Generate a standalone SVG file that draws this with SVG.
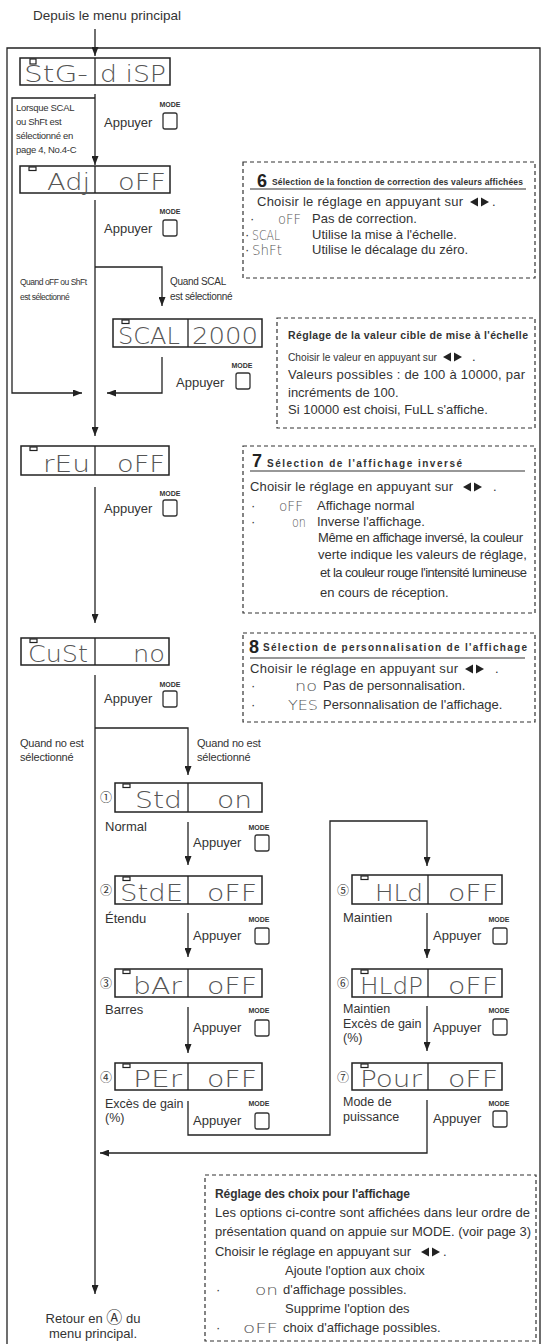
<svg xmlns="http://www.w3.org/2000/svg" width="544" height="1344" viewBox="0 0 544 1344">
<defs>
<marker id="ah" markerWidth="9" markerHeight="7" refX="9" refY="3.5" orient="auto" markerUnits="userSpaceOnUse"><path d="M0,0 L9,3.5 L0,7 z" fill="#222"/></marker>
<g id="lr" fill="#222"><path d="M0,0 L8,-4.5 L8,4.5 z"/><path d="M11,-4.5 L19,0 L11,4.5 z"/></g>
<style>
.ln{fill:none;stroke:#222;stroke-width:1.3}
.ar{fill:none;stroke:#222;stroke-width:1.3;marker-end:url(#ah)}
.disp{fill:#fff;stroke:#222;stroke-width:1.5}
.div{stroke:#222;stroke-width:1.3}
.ind{fill:#fff;stroke:#222;stroke-width:1.2}
.seg{font-family:"DejaVu Sans ExtraLight","DejaVu Sans",sans-serif;font-weight:200;font-size:23px;fill:#555}
.seg2{font-family:"DejaVu Sans ExtraLight","DejaVu Sans",sans-serif;font-weight:200;font-size:13.5px;fill:#555}
.t{font-family:"Liberation Sans",Arial,sans-serif;font-size:13px;fill:#333}
.b{font-family:"Liberation Sans",Arial,sans-serif;font-weight:bold;fill:#333}
.big{font-family:"Liberation Sans",Arial,sans-serif;font-weight:bold;font-size:18px;fill:#222}
.mode{font-family:"Liberation Sans",Arial,sans-serif;font-size:7px;font-weight:bold;fill:#333;text-anchor:middle}
.btn{fill:#fff;stroke:#333;stroke-width:1.3}
.dash{fill:#fff;stroke:#333;stroke-width:1.2;stroke-dasharray:4 3}
.num{font-family:"Noto Sans CJK JP","DejaVu Sans",sans-serif;font-size:12px;fill:#333;text-anchor:middle}
.uln{stroke:#333;stroke-width:1.2}
</style>
</defs>
<rect width="544" height="1344" fill="#fff"/>

<!-- frame -->
<path class="ln" d="M7,1344 V48 H540 V1344"/>

<text class="t" x="107" y="20" text-anchor="middle" style="font-size:13.5px">Depuis le menu principal</text>

<!-- connectors -->
<g id="connectors">
<path class="ar" d="M95,29 V56"/>
<path class="ar" d="M95,94 V165"/>
<path class="ar" d="M95,98 H12 V393 H82"/>
<path class="ar" d="M95,200 V436"/>
<path class="ar" d="M95,267 H162 V306"/>
<path class="ar" d="M162,357 V393 H107"/>
<path class="ar" d="M95,487 V623"/>
<path class="ar" d="M95,675 V1294"/>
<path class="ar" d="M95,728 H188 V775"/>
<path class="ar" d="M188,822 V865"/>
<path class="ar" d="M188,913 V957"/>
<path class="ar" d="M188,1007 V1053"/>
<path class="ar" d="M188,1101 V1135 H330 V821 H427 V866"/>
<path class="ar" d="M427,913 V958"/>
<path class="ar" d="M427,1006 V1051"/>
<path class="ar" d="M427,1100 V1153 H100"/>
</g>

<!-- side labels -->
<g id="labels">
<text class="t" style="font-size:9.5px;letter-spacing:-0.3px" x="16" y="111">Lorsque SCAL</text>
<text class="t" style="font-size:9.5px;letter-spacing:-0.3px" x="16" y="125">ou ShFt est</text>
<text class="t" style="font-size:9.5px;letter-spacing:-0.3px" x="16" y="139">sélectionné en</text>
<text class="t" style="font-size:9.5px;letter-spacing:-0.3px" x="16" y="153">page 4, No.4-C</text>
<text class="t" style="font-size:8.5px;letter-spacing:-0.5px" x="20" y="285">Quand oFF ou ShFt</text>
<text class="t" style="font-size:8.5px;letter-spacing:-0.5px" x="20" y="300">est sélectionné</text>
<text class="t" style="font-size:10px;letter-spacing:-0.3px" x="170" y="285">Quand SCAL</text>
<text class="t" style="font-size:10px;letter-spacing:-0.3px" x="170" y="300">est sélectionné</text>
<text class="t" style="font-size:11px;letter-spacing:-0.2px" x="20" y="747">Quand no est</text>
<text class="t" style="font-size:11px;letter-spacing:-0.2px" x="20" y="761">sélectionné</text>
<text class="t" style="font-size:11px;letter-spacing:-0.2px" x="197" y="747">Quand no est</text>
<text class="t" style="font-size:11px;letter-spacing:-0.2px" x="197" y="761">sélectionné</text>
</g>

<!-- Appuyer groups -->
<g id="press">
<text class="mode" x="170" y="107">MODE</text><text class="t" x="104" y="127">Appuyer</text><rect class="btn" x="163" y="113" width="14" height="16" rx="2"/>
<text class="mode" x="170" y="214">MODE</text><text class="t" x="104" y="233">Appuyer</text><rect class="btn" x="163" y="220" width="14" height="16" rx="2"/>
<text class="mode" x="242" y="368">MODE</text><text class="t" x="176" y="387">Appuyer</text><rect class="btn" x="236" y="373" width="14" height="16" rx="2"/>
<text class="mode" x="170" y="496">MODE</text><text class="t" x="104" y="513">Appuyer</text><rect class="btn" x="163" y="500" width="14" height="16" rx="2"/>
<text class="mode" x="170" y="687">MODE</text><text class="t" x="104" y="703">Appuyer</text><rect class="btn" x="163" y="691" width="14" height="16" rx="2"/>
<text class="mode" x="259" y="830">MODE</text><text class="t" x="193" y="847">Appuyer</text><rect class="btn" x="255" y="835" width="14" height="16" rx="2"/>
<text class="mode" x="259" y="922">MODE</text><text class="t" x="193" y="940">Appuyer</text><rect class="btn" x="255" y="928" width="14" height="16" rx="2"/>
<text class="mode" x="259" y="1013">MODE</text><text class="t" x="193" y="1032">Appuyer</text><rect class="btn" x="255" y="1020" width="14" height="16" rx="2"/>
<text class="mode" x="259" y="1106">MODE</text><text class="t" x="193" y="1125">Appuyer</text><rect class="btn" x="255" y="1113" width="14" height="16" rx="2"/>
<text class="mode" x="499" y="922">MODE</text><text class="t" x="433" y="940">Appuyer</text><rect class="btn" x="493" y="928" width="14" height="16" rx="2"/>
<text class="mode" x="499" y="1013">MODE</text><text class="t" x="433" y="1032">Appuyer</text><rect class="btn" x="493" y="1019" width="14" height="16" rx="2"/>
<text class="mode" x="499" y="1106">MODE</text><text class="t" x="433" y="1123">Appuyer</text><rect class="btn" x="493" y="1111" width="14" height="16" rx="2"/>
</g>

<!-- displays -->
<g id="n-stg-disp"><rect class="disp" x="20" y="58" width="150" height="27"/><line class="div" x1="95" y1="58" x2="95" y2="85"/><rect class="ind" x="30" y="59" width="6" height="5"/><text class="seg" x="24" y="82" textLength="64" lengthAdjust="spacingAndGlyphs">StG-</text><text class="seg" x="100" y="82" textLength="66" lengthAdjust="spacingAndGlyphs">d iSP</text></g>
<g id="n-adj"><rect class="disp" x="20" y="166" width="150" height="27"/><line class="div" x1="95" y1="166" x2="95" y2="193"/><rect class="ind" x="29" y="167" width="7" height="3.5"/><text class="seg" x="47" y="190" textLength="43" lengthAdjust="spacingAndGlyphs">Adj</text><text class="seg" x="118" y="190" textLength="48" lengthAdjust="spacingAndGlyphs">oFF</text></g>
<g id="n-scal"><rect class="disp" x="113" y="319" width="149" height="28"/><line class="div" x1="188" y1="319" x2="188" y2="347"/><rect class="ind" x="122" y="320" width="7" height="3.5"/><text class="seg" x="118" y="344" textLength="62" lengthAdjust="spacingAndGlyphs">SCAL</text><text class="seg" x="192" y="344" textLength="66" lengthAdjust="spacingAndGlyphs">2000</text></g>
<g id="n-rev"><rect class="disp" x="21" y="446" width="148" height="29"/><line class="div" x1="95" y1="446" x2="95" y2="475"/><rect class="ind" x="30" y="447" width="7" height="3.5"/><text class="seg" x="43" y="472" textLength="47" lengthAdjust="spacingAndGlyphs">rEu</text><text class="seg" x="117" y="472" textLength="48" lengthAdjust="spacingAndGlyphs">oFF</text></g>
<g id="n-cust"><rect class="disp" x="21" y="638" width="148" height="27"/><line class="div" x1="95" y1="638" x2="95" y2="665"/><rect class="ind" x="30" y="639" width="7" height="3.5"/><text class="seg" x="28" y="662" textLength="60" lengthAdjust="spacingAndGlyphs">CuSt</text><text class="seg" x="133" y="662" textLength="32" lengthAdjust="spacingAndGlyphs">no</text></g>

<g id="n-std"><text class="num" x="106" y="802">①</text><rect class="disp" x="115" y="783" width="147" height="29"/><line class="div" x1="188" y1="783" x2="188" y2="812"/><rect class="ind" x="123" y="784" width="7" height="3.5"/><text class="seg" x="135" y="808" textLength="47" lengthAdjust="spacingAndGlyphs">Std</text><text class="seg" x="217" y="808" textLength="35" lengthAdjust="spacingAndGlyphs">on</text><text class="t" x="105" y="831">Normal</text></g>
<g id="n-stde"><text class="num" x="106" y="895">②</text><rect class="disp" x="115" y="876" width="147" height="28"/><line class="div" x1="188" y1="876" x2="188" y2="904"/><rect class="ind" x="123" y="877" width="7" height="3.5"/><text class="seg" x="120" y="901" textLength="63" lengthAdjust="spacingAndGlyphs">StdE</text><text class="seg" x="207" y="901" textLength="50" lengthAdjust="spacingAndGlyphs">oFF</text><text class="t" x="105" y="923">Étendu</text></g>
<g id="n-bar"><text class="num" x="106" y="988">③</text><rect class="disp" x="115" y="969" width="147" height="28"/><line class="div" x1="188" y1="969" x2="188" y2="997"/><rect class="ind" x="123" y="970" width="7" height="3.5"/><text class="seg" x="133" y="994" textLength="49" lengthAdjust="spacingAndGlyphs">bAr</text><text class="seg" x="207" y="994" textLength="50" lengthAdjust="spacingAndGlyphs">oFF</text><text class="t" x="105" y="1014">Barres</text></g>
<g id="n-per"><text class="num" x="106" y="1082">④</text><rect class="disp" x="115" y="1063" width="147" height="27"/><line class="div" x1="188" y1="1063" x2="188" y2="1090"/><rect class="ind" x="123" y="1064" width="7" height="3.5"/><text class="seg" x="133" y="1087" textLength="49" lengthAdjust="spacingAndGlyphs">PEr</text><text class="seg" x="207" y="1087" textLength="50" lengthAdjust="spacingAndGlyphs">oFF</text><text class="t" x="105" y="1108" style="font-size:12.5px">Excès de gain</text><text class="t" x="105" y="1122" style="font-size:12.5px">(%)</text></g>

<g id="n-hld"><text class="num" x="343" y="895">⑤</text><rect class="disp" x="352" y="875" width="150" height="29"/><line class="div" x1="428" y1="875" x2="428" y2="904"/><rect class="ind" x="361" y="876" width="7" height="3.5"/><text class="seg" x="375" y="901" textLength="48" lengthAdjust="spacingAndGlyphs">HLd</text><text class="seg" x="448" y="901" textLength="50" lengthAdjust="spacingAndGlyphs">oFF</text><text class="t" x="343" y="922">Maintien</text></g>
<g id="n-hldp"><text class="num" x="343" y="988">⑥</text><rect class="disp" x="352" y="969" width="150" height="28"/><line class="div" x1="428" y1="969" x2="428" y2="997"/><rect class="ind" x="361" y="970" width="7" height="3.5"/><text class="seg" x="360" y="994" textLength="63" lengthAdjust="spacingAndGlyphs">HLdP</text><text class="seg" x="448" y="994" textLength="50" lengthAdjust="spacingAndGlyphs">oFF</text><text class="t" x="343" y="1013" style="font-size:12.5px">Maintien</text><text class="t" x="343" y="1028" style="font-size:12.5px">Excès de gain</text><text class="t" x="343" y="1042" style="font-size:12.5px">(%)</text></g>
<g id="n-pour"><text class="num" x="343" y="1082">⑦</text><rect class="disp" x="352" y="1063" width="150" height="27"/><line class="div" x1="428" y1="1063" x2="428" y2="1090"/><rect class="ind" x="361" y="1064" width="7" height="3.5"/><text class="seg" x="360" y="1087" textLength="62" lengthAdjust="spacingAndGlyphs">Pour</text><text class="seg" x="448" y="1087" textLength="50" lengthAdjust="spacingAndGlyphs">oFF</text><text class="t" x="343" y="1106" style="font-size:12.5px">Mode de</text><text class="t" x="343" y="1121" style="font-size:12.5px">puissance</text></g>

<g id="n-return"><text class="t" x="93" y="1323" text-anchor="middle">Retour en <tspan style="font-family:'Noto Sans CJK JP','DejaVu Sans',sans-serif;font-size:16px">Ⓐ</tspan> du</text><text class="t" x="93" y="1338" text-anchor="middle">menu principal.</text></g>

<!-- box 6 -->
<g id="box6">
<rect class="dash" x="243" y="162" width="292" height="116"/>
<text class="big" x="257" y="187">6</text>
<text class="b" x="272" y="185" style="font-size:8.5px" textLength="251">Sélection de la fonction de correction des valeurs affichées</text>
<line class="uln" x1="250" y1="189" x2="526" y2="189"/>
<text class="t" x="257" y="206" textLength="206">Choisir le réglage en appuyant sur</text><use href="#lr" x="470" y="202"/><text class="t" x="492" y="206">.</text>
<text class="t" x="250" y="223">·</text><text class="seg2" x="278" y="224" textLength="23" lengthAdjust="spacingAndGlyphs">oFF</text><text class="t" x="312" y="223">Pas de correction.</text>
<text class="t" x="245" y="239">·</text><text class="seg2" x="252" y="240" textLength="28" lengthAdjust="spacingAndGlyphs">SCAL</text><text class="t" x="312" y="239">Utilise la mise à l'échelle.</text>
<text class="t" x="245" y="254">·</text><text class="seg2" x="252" y="255" textLength="30" lengthAdjust="spacingAndGlyphs">ShFt</text><text class="t" x="312" y="254">Utilise le décalage du zéro.</text>
</g>

<!-- box scal -->
<g id="box-scal">
<rect class="dash" x="277" y="318" width="258" height="110"/>
<text class="b" x="288" y="339" style="font-size:10.5px" textLength="240">Réglage de la valeur cible de mise à l'échelle</text>
<text class="t" x="288" y="361" style="font-size:11px" textLength="149" lengthAdjust="spacingAndGlyphs">Choisir le valeur en appuyant sur</text><use href="#lr" x="443" y="357"/><text class="t" x="472" y="361">.</text>
<text class="t" x="288" y="379" textLength="237">Valeurs possibles : de 100 à 10000, par</text>
<text class="t" x="288" y="397">incréments de 100.</text>
<text class="t" x="288" y="414">Si 10000 est choisi, FuLL s'affiche.</text>
</g>

<!-- box 7 -->
<g id="box7">
<rect class="dash" x="243" y="446" width="292" height="167"/>
<text class="big" x="252" y="467">7</text>
<text class="b" x="267" y="467" style="font-size:10px" textLength="195">Sélection de l'affichage inversé</text>
<line class="uln" x1="250" y1="471" x2="525" y2="471"/>
<text class="t" x="250" y="491" textLength="203">Choisir le réglage en appuyant sur</text><use href="#lr" x="463" y="487"/><text class="t" x="493" y="491">.</text>
<text class="t" x="251" y="510">·</text><text class="seg2" x="279" y="511" textLength="24" lengthAdjust="spacingAndGlyphs">oFF</text><text class="t" x="317" y="510">Affichage normal</text>
<text class="t" x="251" y="526">·</text><text class="seg2" x="292" y="527" textLength="14" lengthAdjust="spacingAndGlyphs">on</text><text class="t" x="317" y="526">Inverse l'affichage.</text>
<text class="t" x="318" y="542" textLength="205">Même en affichage inversé, la couleur</text>
<text class="t" x="318" y="559">verte indique les valeurs de réglage,</text>
<text class="t" x="320" y="577" textLength="207">et la couleur rouge l'intensité lumineuse</text>
<text class="t" x="320" y="597">en cours de réception.</text>
</g>

<!-- box 8 -->
<g id="box8">
<rect class="dash" x="243" y="633" width="292" height="89"/>
<text class="big" x="249" y="653">8</text>
<text class="b" x="263" y="651" style="font-size:10px" textLength="264">Sélection de personnalisation de l'affichage</text>
<line class="uln" x1="250" y1="658" x2="525" y2="658"/>
<text class="t" x="250" y="673" textLength="208">Choisir le réglage en appuyant sur</text><use href="#lr" x="465" y="669"/><text class="t" x="495" y="673">.</text>
<text class="t" x="251" y="690">·</text><text class="seg2" x="295" y="691" textLength="22" lengthAdjust="spacingAndGlyphs">no</text><text class="t" x="323" y="690">Pas de personnalisation.</text>
<text class="t" x="251" y="709">·</text><text class="seg2" x="288" y="710" textLength="30" lengthAdjust="spacingAndGlyphs">YES</text><text class="t" x="323" y="709">Personnalisation de l'affichage.</text>
</g>

<!-- bottom box -->
<g id="box-choix">
<rect class="dash" x="205" y="1175" width="331" height="166"/>
<text class="b" x="215" y="1198" style="font-size:12px" textLength="195">Réglage des choix pour l'affichage</text>
<text class="t" x="215" y="1217" textLength="315">Les options ci-contre sont affichées dans leur ordre de</text>
<text class="t" x="215" y="1236" textLength="316">présentation quand on appuie sur MODE. (voir page 3)</text>
<text class="t" x="215" y="1256" textLength="196">Choisir le réglage en appuyant sur</text><use href="#lr" x="421" y="1252"/><text class="t" x="443" y="1256">.</text>
<text class="t" x="285" y="1275">Ajoute l'option aux choix</text>
<text class="t" x="216" y="1294">·</text><text class="seg2" x="255" y="1295" textLength="23" lengthAdjust="spacingAndGlyphs">on</text><text class="t" x="283" y="1294">d'affichage possibles.</text>
<text class="t" x="285" y="1313">Supprime l'option des</text>
<text class="t" x="216" y="1332">·</text><text class="seg2" x="243" y="1333" textLength="35" lengthAdjust="spacingAndGlyphs">oFF</text><text class="t" x="283" y="1332">choix d'affichage possibles.</text>
</g>
</svg>
